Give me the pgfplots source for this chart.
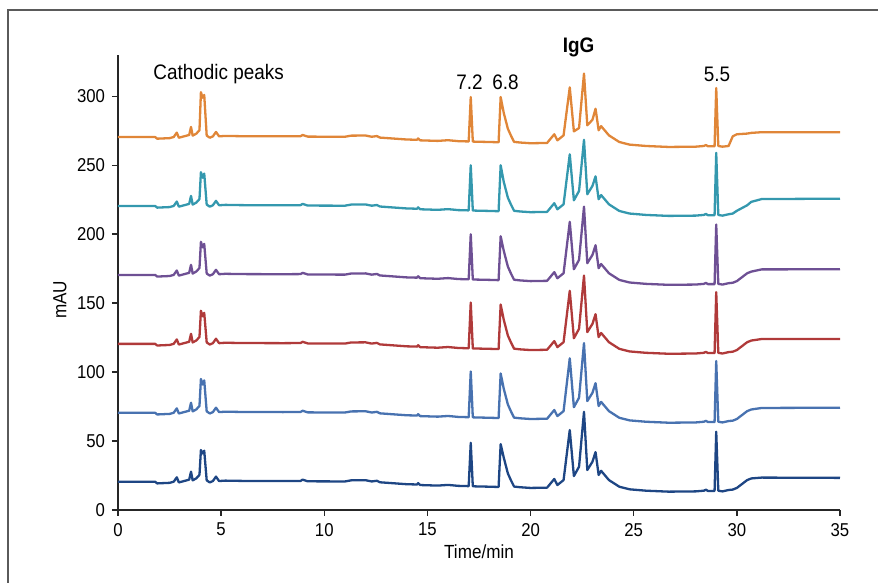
\documentclass[border=0pt]{standalone}
\usepackage{fontspec}
\setmainfont{Liberation Sans}[FakeStretch=0.9]
\usepackage{pgfplots}
\usepackage{pgfplotstable}
\pgfplotsset{compat=1.18}

\definecolor{cOr}{RGB}{224,134,56}
\definecolor{cTe}{RGB}{52,152,174}
\definecolor{cPu}{RGB}{110,80,148}
\definecolor{cRe}{RGB}{176,58,58}
\definecolor{cBl}{RGB}{72,114,176}
\definecolor{cNa}{RGB}{30,70,132}
\definecolor{frame}{RGB}{90,90,90}

% time, then six stacked runs (offset by 50 mAU)
\pgfplotstableread{
x     or     te     pu     re     bl     na
0.0   270.5  220.5  170.5  120.5  70.5   20.5
1.8   270.5  220.5  170.5  120.5  70.5   20.5
1.9   269.3  219.3  169.3  119.3  69.3   19.3
2.5   269.7  219.7  169.7  119.7  69.7   19.7
2.7   270.5  220.5  170.5  120.5  70.5   20.5
2.85  273.7  223.7  173.7  123.7  73.7   23.7
2.95  270    220    170    120    70     20
3.2   271    221    171    121    71     21
3.45  272    222    172    122    72     22
3.54  277.8  227.8  177.8  127.8  77.8   27.8
3.62  271.5  221.5  171.5  121.5  71.5   21.5
3.8   273    223    173    123    73     23
3.95  275.5  225.5  175.5  125.5  75.5   25.5
4.02  303    245    194.5  144.5  95     43.5
4.1   299    241    190.5  140.5  91     41
4.18  301    244    193    143    94     43
4.3   271.5  221.5  171.5  121.5  71.5   21.5
4.45  270    220    170    120    70     20
4.6   271    221    171    121    71     21
4.75  274.2  224.2  174.2  124.2  74.2   24.2
4.9   271    221    171    121    71     21
5.2   271.3  221.3  171.3  121.3  71.3   21.3
6.0   271.1  221.1  171.1  121.1  71.1   21.1
8.0   271    221    171    121    71     21
8.85  271.1  221.1  171.1  121.1  71.1   21.1
8.95  272    222    172    122    72     22
9.2   270.8  220.8  170.8  120.8  70.8   20.8
11.0  270.7  220.7  170.7  120.7  70.7   20.7
11.3  271.5  221.5  171.5  121.5  71.5   21.5
12.0  271.6  221.6  171.6  121.6  71.6   21.6
12.3  270.7  220.7  170.7  120.7  70.7   20.7
12.55 271.2  221.2  171.2  121.2  71.2   21.2
12.7  270.1  220.1  170.1  120.1  70.1   20.1
14.0  268.7  218.7  168.7  118.7  68.7   18.7
14.5  268.5  218.5  168.5  118.5  68.5   18.5
14.55 269.5  219.5  169.5  119.5  69.5   19.5
14.65 268.1  218.1  168.1  118.1  68.1   18.1
15.5  267.7  217.7  167.7  117.7  67.7   17.7
16.0  268.2  218.2  168.2  118.2  68.2   18.2
16.5  267.5  217.5  167.5  117.5  67.5   17.5
17.0  267.3  217.3  167.3  117.3  67.3   17.3
17.1  299.5  250    200    150.5  100.5  48.8
17.2  267.2  217.2  167.2  117.2  67.2   17.2
17.4  267.1  217.1  167.1  117.1  67.1   17.1
18.0  266.9  216.9  166.9  116.9  66.9   16.9
18.45 266.7  216.7  166.7  116.7  66.7   16.7
18.55 299.5  250    198.5  149    99     47.8
18.7  288    238    188    138    88     38
18.9  276.5  226.5  176.5  126.5  76.5   26.5
19.05 271.5  221.5  171.5  121.5  71.5   21.5
19.2  267    217    167    117    67     17
19.5  266.5  216.5  166.5  116.5  66.5   16.5
20.0  266    216    166    116    66     16
20.8  266.2  216.2  166.2  116.2  66.2   16.2
21.15 272.5  222.5  172.5  122.5  72.5   22.5
21.3  268.1  218.1  168.1  118.1  68.1   18.1
21.6  271.7  221.7  171.7  121.7  71.7   21.7
21.9  306.5  258    209    159    110    58
22.1  274.6  224.6  174.6  124.6  74.6   24.6
22.35 277    231.4  181.4  131.4  81.4   31.4
22.59 316.5  268.5  220    170    121    71.2
22.75 279    229    179    129    79     29
23.0  283    235    185    135    85     35
23.15 291    242    192    142    92     42
23.3  275.4  225.4  175.4  125.4  75.4   25.4
23.42 278.4  228.4  178.4  128.4  78.4   28.4
23.8  271.7  221.7  171.7  121.7  71.7   21.7
24.3  266.9  216.9  166.9  116.9  66.9   16.9
24.8  265    215    165    115    65     15
25.6  264    214    164    114    64     14
26.7  263.3  213.3  163.3  113.3  63.3   13.3
28.0  263.5  213.5  163.5  113.5  63.5   13.5
28.4  264    214    164    114    64     14
28.5  264.7  214.7  164.7  114.7  64.7   14.7
28.6  263.8  213.8  163.8  113.8  63.8   13.8
28.92 263.8  213.8  163.8  113.8  63.8   13.8
29.0  306    259    207    158    108    56.8
29.1  264    214    164    114    64     14
29.3  263.5  213.5  163.5  113.5  63.5   13.5
29.6  264    214.5  164.5  114.5  64.5   14.5
29.8  271    215    164.8  114.8  64.8   14.8
30.0  272.5  217    166    116    66     16
30.5  273    221    171.7  121.7  71.7   21.7
30.7  273.5  223.5  172.9  122.9  72.9   22.9
31.2  274    225.5  174.5  124    74     23.5
35.0  274    225.8  174.6  124    74.2   23.3
}\runs

\begin{document}
\begin{tikzpicture}
\useasboundingbox (-59pt,-36.5pt) rectangle (380pt,255pt);
\draw[frame, line width=1pt] (-55pt,-40pt) -- (-55pt,250pt) -- (385pt,250pt);
\begin{axis}[
    at={(0,0)}, anchor=south west,
    scale only axis,
    width=361pt, height=227.5pt,
    xmin=0, xmax=35, ymin=0, ymax=330,
    axis lines*=left,
    axis line style={line width=0.75pt, black!85},
    xtick={0,5,...,35},
    ytick={0,50,...,300},
    tick align=outside,
    major tick length=3pt,
    tick style={line width=0.75pt, black!85},
    tick label style={font=\fontsize{9.3}{10}\selectfont},
    /pgf/number format/assume math mode=true,
    xlabel={Time/min},
    ylabel={mAU},
    label style={font=\fontsize{9.5}{11}\selectfont},
    xlabel style={at={(axis description cs:0.5,0)}, anchor=center, yshift=-20.8pt},
    ylabel style={at={(axis description cs:-0.0803,0.462)}, anchor=center},
    every axis plot/.append style={line width=1.15pt, line join=round},
    clip=false,
]
\addplot[cOr] table[x=x, y=or] {\runs};
\addplot[cTe] table[x=x, y=te] {\runs};
\addplot[cPu] table[x=x, y=pu] {\runs};
\addplot[cRe] table[x=x, y=re] {\runs};
\addplot[cBl] table[x=x, y=bl] {\runs};
\addplot[cNa] table[x=x, y=na] {\runs};

\node[anchor=base west, inner sep=0, font=\fontsize{10.5}{12}\selectfont] at (axis cs:1.7,312) {Cathodic peaks};
\node[anchor=base, inner sep=0, font=\fontsize{10.5}{12}\selectfont] at (axis cs:17.04,305) {7.2};
\node[anchor=base, inner sep=0, font=\fontsize{10.5}{12}\selectfont] at (axis cs:18.78,305) {6.8};
\node[anchor=base, inner sep=0, font=\fontsize{10.5}{12}\selectfont\bfseries] at (axis cs:22.33,332) {IgG};
\node[anchor=base, inner sep=0, font=\fontsize{10.5}{12}\selectfont] at (axis cs:29.04,311) {5.5};
\end{axis}
\end{tikzpicture}
\end{document}
